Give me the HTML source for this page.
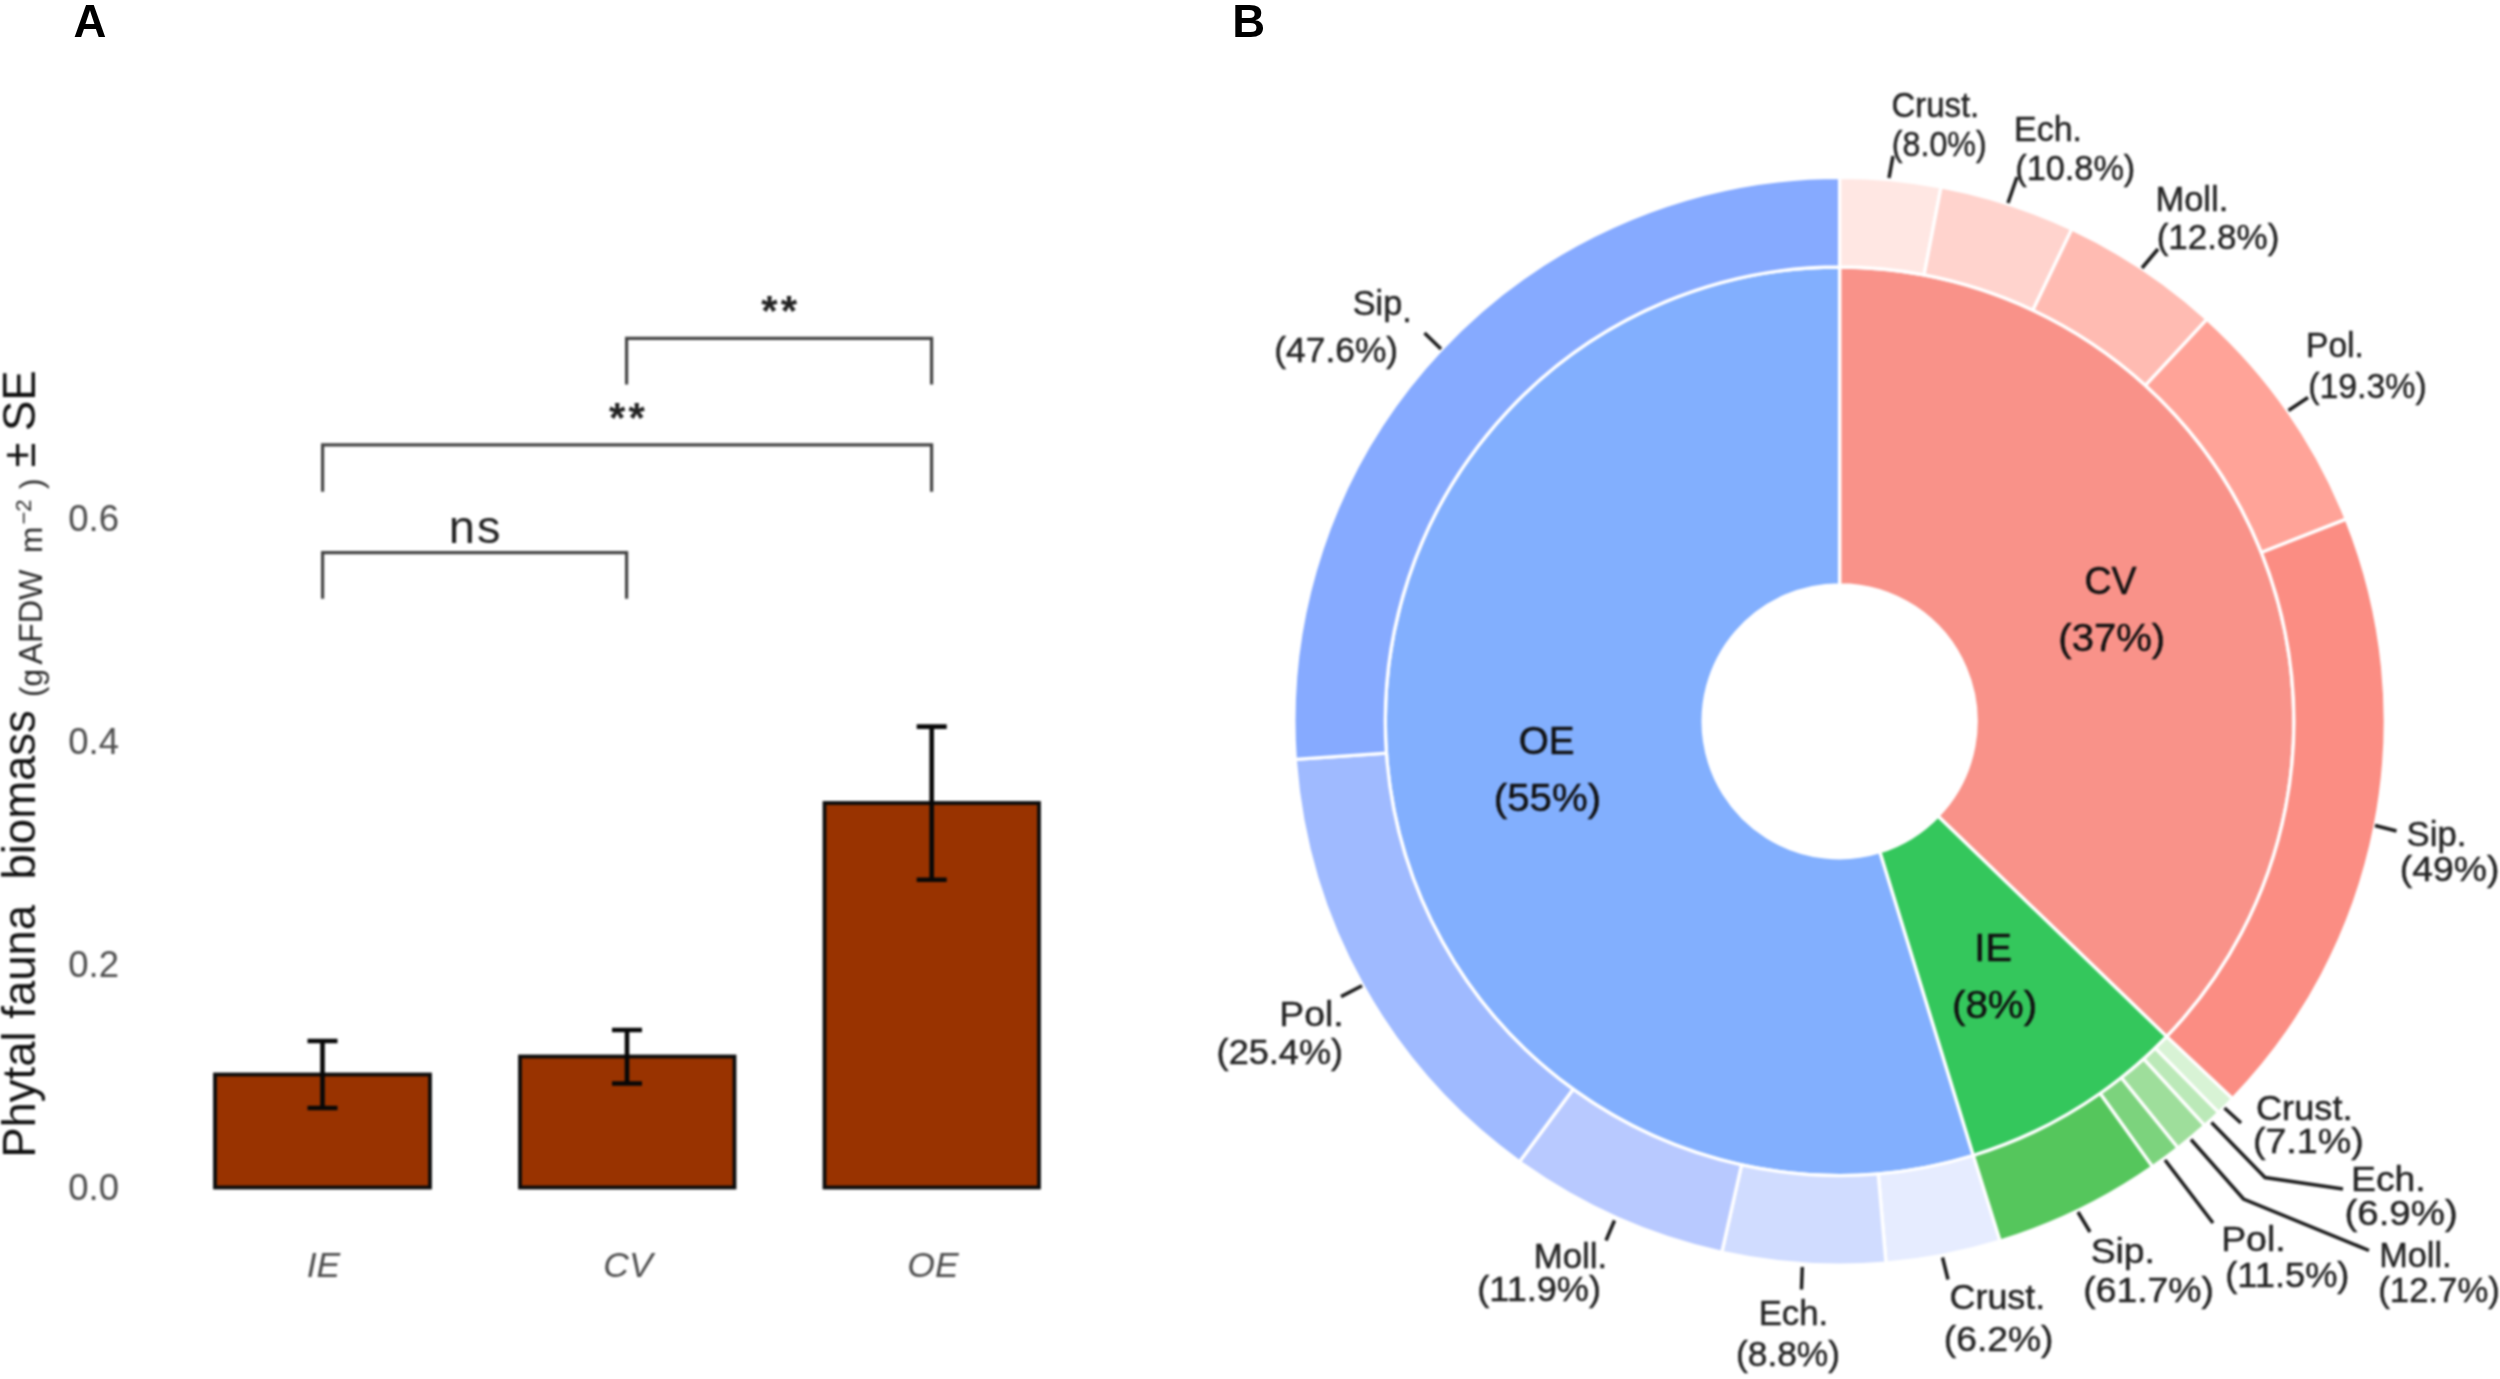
<!DOCTYPE html>
<html lang="en"><head><meta charset="utf-8"><title>Figure</title>
<style>html,body{margin:0;padding:0;background:#fff}body{width:2500px;height:1379px;overflow:hidden}svg{display:block}text{font-family:"Liberation Sans",Arial,Helvetica,sans-serif}</style></head><body>
<svg width="2500" height="1379" viewBox="0 0 2500 1379">
<defs><filter id="soft" x="0" y="0" width="100%" height="100%" filterUnits="userSpaceOnUse" color-interpolation-filters="sRGB"><feGaussianBlur stdDeviation="0.85"/></filter></defs>
<g filter="url(#soft)"><rect width="2500" height="1379" fill="#fff"/>
<text x="119" y="1200.0" font-size="36.5" text-anchor="end" fill="#4d4d4d">0.0</text>
<text x="119" y="977.0" font-size="36.5" text-anchor="end" fill="#4d4d4d">0.2</text>
<text x="119" y="754.0" font-size="36.5" text-anchor="end" fill="#4d4d4d">0.4</text>
<text x="119" y="531.0" font-size="36.5" text-anchor="end" fill="#4d4d4d">0.6</text>
<text transform="translate(35.2,1157.8) rotate(-90)" font-size="45.5" fill="#111" xml:space="preserve">Phytal fauna  biomass</text>
<text transform="translate(42,697) rotate(-90)" font-size="31.5" fill="#2a2a2a" xml:space="preserve">(g</text>
<text transform="translate(42,664.5) rotate(-90)" font-size="32.3" fill="#2a2a2a" xml:space="preserve">AFDW</text>
<text transform="translate(42,553) rotate(-90)" font-size="31.5" fill="#2a2a2a" xml:space="preserve">m</text>
<text transform="translate(31,524.5) rotate(-90)" font-size="22" fill="#2a2a2a" xml:space="preserve">−2</text>
<text transform="translate(42,489) rotate(-90)" font-size="31.5" fill="#2a2a2a" xml:space="preserve">)</text>
<text transform="translate(35.2,467.5) rotate(-90)" font-size="45.5" fill="#111" xml:space="preserve">±</text>
<text transform="translate(35.2,431) rotate(-90)" font-size="45.5" fill="#111" xml:space="preserve">SE</text>
<rect x="215" y="1074.5" width="215" height="113.0" fill="#993300" stroke="#0c0c0c" stroke-width="3.8"/>
<rect x="520" y="1056.5" width="214.5" height="131.0" fill="#993300" stroke="#0c0c0c" stroke-width="3.8"/>
<rect x="824.5" y="803" width="214.5" height="384.5" fill="#993300" stroke="#0c0c0c" stroke-width="3.8"/>
<path d="M307.5 1041H337.5M322.5 1041V1108M307.5 1108H337.5" fill="none" stroke="#080808" stroke-width="4.6"/>
<path d="M612 1030H642M627 1030V1083.5M612 1083.5H642" fill="none" stroke="#080808" stroke-width="4.6"/>
<path d="M916.7 726.6H946.7M931.7 726.6V879.7M916.7 879.7H946.7" fill="none" stroke="#080808" stroke-width="4.6"/>
<text x="323.5" y="1276.5" font-size="35.5" font-style="italic" text-anchor="middle" fill="#4d4d4d">IE</text>
<text x="628" y="1276.5" font-size="35.5" font-style="italic" text-anchor="middle" fill="#4d4d4d">CV</text>
<text x="933" y="1276.5" font-size="35.5" font-style="italic" text-anchor="middle" fill="#4d4d4d">OE</text>
<path d="M626.6 384.6V338.4H931.6V384.6" fill="none" stroke="#444" stroke-width="3.2"/>
<path d="M322.6 491.8V444.8H931.6V491.8" fill="none" stroke="#444" stroke-width="3.2"/>
<path d="M322.6 598.8V552.6H626.6V598.8" fill="none" stroke="#444" stroke-width="3.2"/>
<text x="780.7" y="325.2" font-size="42" font-weight="bold" letter-spacing="3" text-anchor="middle" fill="#222">**</text>
<text x="628.4" y="431.7" font-size="42" font-weight="bold" letter-spacing="3" text-anchor="middle" fill="#222">**</text>
<text x="475.6" y="543.2" font-size="47" letter-spacing="2" text-anchor="middle" fill="#222">ns</text>
<path d="M1839.60 267.00A454.3 454.3 0 0 1 2166.67 1036.60L1937.87 816.04A136.5 136.5 0 0 0 1839.60 584.80Z" fill="#f99289" stroke="#fff" stroke-width="3.3" stroke-linejoin="round"/>
<path d="M1839.60 177.40A545.7 543.9 0 0 1 1941.07 186.89L1924.07 274.92A454.3 454.3 0 0 0 1839.60 267.00Z" fill="#ffe7e3" stroke="#fff" stroke-width="3.3" stroke-linejoin="round"/>
<path d="M1941.07 186.89A545.7 543.9 0 0 1 2071.80 229.09L2032.91 310.18A454.3 454.3 0 0 0 1924.07 274.92Z" fill="#ffd3cd" stroke="#fff" stroke-width="3.3" stroke-linejoin="round"/>
<path d="M2071.80 229.09A545.7 543.9 0 0 1 2207.06 319.19L2145.51 385.44A454.3 454.3 0 0 0 2032.91 310.18Z" fill="#ffbbb2" stroke="#fff" stroke-width="3.3" stroke-linejoin="round"/>
<path d="M2207.06 319.19A545.7 543.9 0 0 1 2346.21 519.14L2261.35 552.44A454.3 454.3 0 0 0 2145.51 385.44Z" fill="#ffa398" stroke="#fff" stroke-width="3.3" stroke-linejoin="round"/>
<path d="M2346.21 519.14A545.7 543.9 0 0 1 2232.47 1098.78L2166.67 1036.60A454.3 454.3 0 0 0 2261.35 552.44Z" fill="#fb8d83" stroke="#fff" stroke-width="3.3" stroke-linejoin="round"/>
<path d="M2166.67 1036.60A454.3 454.3 0 0 1 1973.18 1155.52L1879.74 851.77A136.5 136.5 0 0 0 1937.87 816.04Z" fill="#34c75c" stroke="#fff" stroke-width="3.3" stroke-linejoin="round"/>
<path d="M2232.47 1098.78A545.7 543.9 0 0 1 2218.64 1112.58L2155.15 1048.13A454.3 454.3 0 0 0 2166.67 1036.60Z" fill="#d8f3d5" stroke="#fff" stroke-width="3.3" stroke-linejoin="round"/>
<path d="M2218.64 1112.58A545.7 543.9 0 0 1 2204.72 1125.52L2143.57 1058.93A454.3 454.3 0 0 0 2155.15 1048.13Z" fill="#bbe9b8" stroke="#fff" stroke-width="3.3" stroke-linejoin="round"/>
<path d="M2204.72 1125.52A545.7 543.9 0 0 1 2177.97 1148.02L2121.29 1077.72A454.3 454.3 0 0 0 2143.57 1058.93Z" fill="#9ede9b" stroke="#fff" stroke-width="3.3" stroke-linejoin="round"/>
<path d="M2177.97 1148.02A545.7 543.9 0 0 1 2152.53 1166.89L2100.12 1093.48A454.3 454.3 0 0 0 2121.29 1077.72Z" fill="#7cd37d" stroke="#fff" stroke-width="3.3" stroke-linejoin="round"/>
<path d="M2152.53 1166.89A545.7 543.9 0 0 1 2000.06 1241.16L1973.18 1155.52A454.3 454.3 0 0 0 2100.12 1093.48Z" fill="#55c65c" stroke="#fff" stroke-width="3.3" stroke-linejoin="round"/>
<path d="M1973.18 1155.52A454.3 454.3 0 1 1 1839.60 267.00L1839.60 584.80A136.5 136.5 0 1 0 1879.74 851.77Z" fill="#82affe" stroke="#fff" stroke-width="3.3" stroke-linejoin="round"/>
<path d="M2000.06 1241.16A545.7 543.9 0 0 1 1886.02 1263.23L1878.25 1173.95A454.3 454.3 0 0 0 1973.18 1155.52Z" fill="#e6ecff" stroke="#fff" stroke-width="3.3" stroke-linejoin="round"/>
<path d="M1886.02 1263.23A545.7 543.9 0 0 1 1721.81 1252.38L1741.54 1164.89A454.3 454.3 0 0 0 1878.25 1173.95Z" fill="#d0dcff" stroke="#fff" stroke-width="3.3" stroke-linejoin="round"/>
<path d="M1721.81 1252.38A545.7 543.9 0 0 1 1519.46 1161.77L1573.08 1089.21A454.3 454.3 0 0 0 1741.54 1164.89Z" fill="#b8c9ff" stroke="#fff" stroke-width="3.3" stroke-linejoin="round"/>
<path d="M1519.46 1161.77A545.7 543.9 0 0 1 1295.24 759.40L1386.42 753.12A454.3 454.3 0 0 0 1573.08 1089.21Z" fill="#9fbaff" stroke="#fff" stroke-width="3.3" stroke-linejoin="round"/>
<path d="M1295.24 759.40A545.7 543.9 0 0 1 1839.60 177.40L1839.60 267.00A454.3 454.3 0 0 0 1386.42 753.12Z" fill="#86aaff" stroke="#fff" stroke-width="3.3" stroke-linejoin="round"/>
<text transform="translate(1518.74,753.5) scale(0.9929,1)" font-size="39" fill="#111" stroke="#111" stroke-width="0.5">OE</text>
<text transform="translate(1493.85,810.5) scale(1.0307,1)" font-size="39" fill="#111" stroke="#111" stroke-width="0.5">(55%)</text>
<text transform="translate(2084.38,594) scale(0.9615,1)" font-size="39" fill="#111" stroke="#111" stroke-width="0.5">CV</text>
<text transform="translate(2058.36,651) scale(1.0267,1)" font-size="39" fill="#111" stroke="#111" stroke-width="0.5">(37%)</text>
<text transform="translate(1974.17,960.5) scale(1.0277,1)" font-size="39" fill="#111" stroke="#111" stroke-width="0.5">IE</text>
<text transform="translate(1951.94,1017.5) scale(1.0357,1)" font-size="39" fill="#111" stroke="#111" stroke-width="0.5">(8%)</text>
<text transform="translate(1891.56,117.2) scale(0.9392,1)" font-size="35" fill="#242424" stroke="#242424" stroke-width="0.45">Crust.</text>
<text transform="translate(1891.85,155.6) scale(0.9195,1)" font-size="35" fill="#242424" stroke="#242424" stroke-width="0.45">(8.0%)</text>
<text transform="translate(2014.01,141) scale(0.9706,1)" font-size="35" fill="#242424" stroke="#242424" stroke-width="0.45">Ech.</text>
<text transform="translate(2015.22,180) scale(0.9801,1)" font-size="35" fill="#242424" stroke="#242424" stroke-width="0.45">(10.8%)</text>
<text transform="translate(2155.47,211) scale(0.9845,1)" font-size="35" fill="#242424" stroke="#242424" stroke-width="0.45">Moll.</text>
<text transform="translate(2156.67,248.8) scale(1.0013,1)" font-size="35" fill="#242424" stroke="#242424" stroke-width="0.45">(12.8%)</text>
<text transform="translate(2306.04,357) scale(0.9585,1)" font-size="35" fill="#242424" stroke="#242424" stroke-width="0.45">Pol.</text>
<text transform="translate(2308.14,397.5) scale(0.9683,1)" font-size="35" fill="#242424" stroke="#242424" stroke-width="0.45">(19.3%)</text>
<text transform="translate(2406.59,845.5) scale(0.9910,1)" font-size="35" fill="#242424" stroke="#242424" stroke-width="0.45">Sip.</text>
<text transform="translate(2399.83,881.2) scale(1.0659,1)" font-size="35" fill="#242424" stroke="#242424" stroke-width="0.45">(49%)</text>
<text transform="translate(2255.99,1119.5) scale(1.0342,1)" font-size="35" fill="#242424" stroke="#242424" stroke-width="0.45">Crust.</text>
<text transform="translate(2252.91,1153) scale(1.0754,1)" font-size="35" fill="#242424" stroke="#242424" stroke-width="0.45">(7.1%)</text>
<text transform="translate(2351.03,1190.5) scale(1.0661,1)" font-size="35" fill="#242424" stroke="#242424" stroke-width="0.45">Ech.</text>
<text transform="translate(2344.46,1225.2) scale(1.0997,1)" font-size="35" fill="#242424" stroke="#242424" stroke-width="0.45">(6.9%)</text>
<text transform="translate(2379.18,1266.8) scale(0.9801,1)" font-size="35" fill="#242424" stroke="#242424" stroke-width="0.45">Moll.</text>
<text transform="translate(2378.29,1301.5) scale(0.9920,1)" font-size="35" fill="#242424" stroke="#242424" stroke-width="0.45">(12.7%)</text>
<text transform="translate(2221.13,1250.5) scale(1.0691,1)" font-size="35" fill="#242424" stroke="#242424" stroke-width="0.45">Pol.</text>
<text transform="translate(2225.20,1286.5) scale(1.0361,1)" font-size="35" fill="#242424" stroke="#242424" stroke-width="0.45">(11.5%)</text>
<text transform="translate(2090.67,1262.6) scale(1.0667,1)" font-size="35" fill="#242424" stroke="#242424" stroke-width="0.45">Sip.</text>
<text transform="translate(2083.34,1302.4) scale(1.0655,1)" font-size="35" fill="#242424" stroke="#242424" stroke-width="0.45">(61.7%)</text>
<text transform="translate(1949.50,1309.2) scale(1.0263,1)" font-size="35" fill="#242424" stroke="#242424" stroke-width="0.45">Crust.</text>
<text transform="translate(1943.84,1350.8) scale(1.0633,1)" font-size="35" fill="#242424" stroke="#242424" stroke-width="0.45">(6.2%)</text>
<text transform="translate(1758.65,1325.3) scale(0.9926,1)" font-size="35" fill="#242424" stroke="#242424" stroke-width="0.45">Ech.</text>
<text transform="translate(1735.95,1366.4) scale(1.0106,1)" font-size="35" fill="#242424" stroke="#242424" stroke-width="0.45">(8.8%)</text>
<text transform="translate(1533.74,1268) scale(0.9934,1)" font-size="35" fill="#242424" stroke="#242424" stroke-width="0.45">Moll.</text>
<text transform="translate(1477.21,1301.4) scale(1.0318,1)" font-size="35" fill="#242424" stroke="#242424" stroke-width="0.45">(11.9%)</text>
<text transform="translate(1279.34,1026) scale(1.0654,1)" font-size="35" fill="#242424" stroke="#242424" stroke-width="0.45">Pol.</text>
<text transform="translate(1216.61,1063.8) scale(1.0317,1)" font-size="35" fill="#242424" stroke="#242424" stroke-width="0.45">(25.4%)</text>
<text transform="translate(1352.81,314.6) scale(0.9766,1)" font-size="35" fill="#242424" stroke="#242424" stroke-width="0.45">Sip<tspan dy="7.5">.</tspan></text>
<text transform="translate(1274.25,362) scale(1.0114,1)" font-size="35" fill="#242424" stroke="#242424" stroke-width="0.45">(47.6%)</text>
<path d="M1889 178L1893 156" fill="none" stroke="#1c1c1c" stroke-width="3.5"/>
<path d="M2008 203L2017 177" fill="none" stroke="#1c1c1c" stroke-width="3.5"/>
<path d="M2142 268L2158 249" fill="none" stroke="#1c1c1c" stroke-width="3.5"/>
<path d="M2288.5 410.5L2308 397.5" fill="none" stroke="#1c1c1c" stroke-width="3.5"/>
<path d="M2375 825.5L2396.5 831" fill="none" stroke="#1c1c1c" stroke-width="3.5"/>
<path d="M2224.5 1108L2241 1123" fill="none" stroke="#1c1c1c" stroke-width="3.5"/>
<path d="M2211.5 1122.5L2265 1177.5L2343 1189" fill="none" stroke="#1c1c1c" stroke-width="3.5"/>
<path d="M2191 1139.5L2243.5 1199L2369 1250.5" fill="none" stroke="#1c1c1c" stroke-width="3.5"/>
<path d="M2165 1160L2213 1223" fill="none" stroke="#1c1c1c" stroke-width="3.5"/>
<path d="M2078 1212L2090 1232" fill="none" stroke="#1c1c1c" stroke-width="3.5"/>
<path d="M1942.5 1257.5L1948 1279.5" fill="none" stroke="#1c1c1c" stroke-width="3.5"/>
<path d="M1802.3 1267L1801.5 1289.5" fill="none" stroke="#1c1c1c" stroke-width="3.5"/>
<path d="M1614.5 1220.5L1606 1240.5" fill="none" stroke="#1c1c1c" stroke-width="3.5"/>
<path d="M1362 985.8L1341 996.6" fill="none" stroke="#1c1c1c" stroke-width="3.5"/>
<path d="M1424.5 333L1441 349" fill="none" stroke="#1c1c1c" stroke-width="3.5"/>
</g>
<text x="73.5" y="36.5" font-size="45.5" font-weight="bold" fill="#000">A</text>
<text x="1232.3" y="36.5" font-size="45.5" font-weight="bold" fill="#000">B</text>
</svg></body></html>
